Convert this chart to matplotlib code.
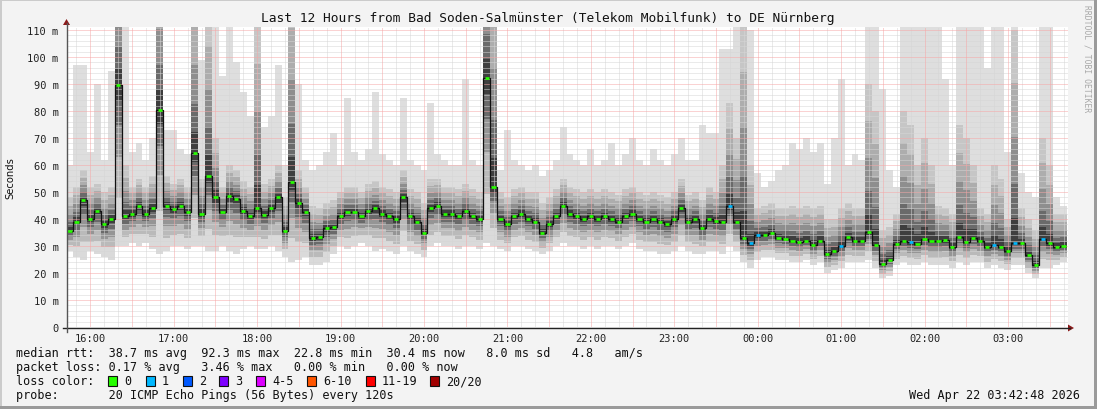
"""SmokePing style latency chart: last 12 hours, Bad Soden-Salmuenster -> DE Nuernberg."""

import numpy as np
import matplotlib
matplotlib.use("Agg")
import matplotlib.pyplot as plt
from matplotlib.patches import Rectangle, Polygon
from matplotlib.lines import Line2D

W, H = 1097, 410

# --- Data (one sample every 5 minutes from 15:45) ---
start_hour = 15.72          # left edge of the plot (15:43)
step_min = 5

median = [
    35.5, 39, 47, 40, 43, 38, 40, 89.6, 41, 42,
    45, 42, 44, 80.5, 45, 43.7, 45, 42.6, 64.4, 42,
    56, 48, 42.6, 48.5, 47.5, 43, 41, 44, 41.5, 44,
    48, 35.6, 53.7, 46, 42.6, 33, 33.3, 36.5, 37, 41,
    42.6, 42.6, 41, 43, 44, 42, 41, 40, 48, 41,
    39, 35, 44, 45, 42, 42, 41, 43, 41, 40,
    92.3, 52, 40, 38, 41, 42, 40, 39, 35, 38,
    41, 45, 42, 41, 40, 41, 40, 41, 40, 39,
    41, 42, 40, 39, 40, 39, 38, 40, 44, 39,
    40, 36.5, 40, 39.3, 39, 44.8, 39, 33, 31, 34,
    34, 34.8, 33, 32.6, 32, 31.5, 32, 30.5, 32, 27,
    28.1, 30, 33.3, 32, 32, 35.2, 30.4, 23.5, 25, 30.7,
    32, 31.3, 30.8, 32.5, 32, 32, 32.2, 29.6, 33.5, 31.5,
    33, 31.8, 29.5, 30.4, 29.6, 28.2, 31, 31, 26.5, 23,
    32.5, 31, 29.6, 30,
]

# lowest ping of each round
ping_min = [
    28, 26, 25, 28, 27, 26, 25, 30, 30, 31,
    30, 31, 29, 27, 28, 30, 30, 29, 30, 30,
    28, 28, 30, 28, 27, 29, 30, 29, 29, 30,
    28, 26, 24, 25, 26, 23, 23, 24, 27, 30,
    29, 30, 31, 30, 28, 29, 28, 27, 30, 28,
    27, 26, 30, 31, 30, 30, 29, 30, 30, 29,
    31, 30, 29, 28, 30, 30, 29, 28, 27, 28,
    30, 31, 30, 30, 29, 30, 29, 30, 30, 29,
    30, 31, 29, 28, 28, 27, 27, 28, 30, 28,
    27, 27, 28, 28, 27, 30, 28, 24, 22, 25,
    26, 26, 25, 25, 24, 24, 25, 23, 24, 20,
    21, 22, 24, 24, 24, 25, 22, 18, 19, 23,
    24, 23, 23, 24, 23, 23, 23, 22, 24, 23,
    24, 24, 22, 23, 22, 21, 23, 23, 20, 18,
    22, 22, 23, 24,
]

# upper edge of the dense smoke (about the 18th of 20 pings)
ping_high = [
    48, 52, 58, 52, 53, 50, 52, 140, 60, 52,
    55, 52, 56, 140, 56, 53, 55, 52, 130, 55,
    120, 70, 52, 60, 58, 54, 52, 115, 53, 55,
    60, 48, 130, 58, 52, 45, 44, 46, 47, 50,
    52, 52, 50, 53, 54, 52, 51, 50, 58, 51,
    50, 46, 55, 55, 52, 52, 51, 53, 51, 50,
    150, 140, 50, 48, 51, 52, 50, 50, 46, 48,
    51, 55, 52, 51, 50, 51, 50, 51, 50, 49,
    51, 52, 50, 49, 50, 49, 48, 50, 55, 49,
    50, 47, 52, 50, 60, 83, 70, 115, 60, 44,
    45, 46, 44, 44, 45, 44, 45, 44, 45, 40,
    40, 44, 46, 44, 44, 90, 80, 36, 37, 42,
    80, 75, 60, 70, 60, 45, 44, 42, 75, 70,
    60, 44, 42, 60, 55, 40, 110, 44, 40, 36,
    70, 60, 42, 42,
]

# highest ping of each round
ping_max = [
    60, 97, 97, 65, 90, 62, 95, 150, 115, 65,
    68, 62, 70, 150, 73, 73, 66, 64, 150, 99,
    150, 120, 93, 112, 98, 87, 78, 150, 74, 78,
    97, 60, 150, 90, 62, 58, 60, 65, 72, 60,
    85, 65, 62, 66, 87, 64, 62, 60, 85, 62,
    60, 58, 83, 64, 62, 60, 60, 92, 62, 60,
    150, 150, 58, 73, 62, 60, 58, 60, 56, 58,
    62, 74, 64, 62, 60, 66, 60, 62, 68, 60,
    64, 70, 62, 60, 66, 62, 60, 64, 70, 62,
    62, 75, 72, 72, 103, 103, 125, 125, 110, 57,
    52, 54, 58, 60, 68, 66, 70, 65, 68, 53,
    70, 92, 60, 64, 62, 120, 120, 88, 58, 52,
    120, 120, 120, 115, 115, 115, 92, 60, 120, 120,
    120, 115, 96, 115, 115, 65, 120, 57, 50, 48,
    120, 120, 48, 45,
]

# rounds with one lost ping (of 20)
loss_idx = [95, 98, 99, 111, 121, 133, 136, 140]

loss_labels = ["0", "1", "2", "3", "4-5", "6-10", "11-19", "20/20"]
loss_colors = ["#26ff00", "#00b8ff", "#0059ff", "#7e00ff",
               "#dd00ff", "#ff5500", "#ff0000", "#a10000"]

title = "Last 12 Hours from Bad Soden-Salmünster (Telekom Mobilfunk) to DE Nürnberg"
stats_rtt = "median rtt:  38.7 ms avg  92.3 ms max  22.8 ms min  30.4 ms now   8.0 ms sd   4.8   am/s"
stats_loss = "packet loss: 0.17 % avg   3.46 % max   0.00 % min   0.00 % now"
probe_line = "probe:       20 ICMP Echo Pings (56 Bytes) every 120s"
stamp = "Wed Apr 22 03:42:48 2026"

MONO = "DejaVu Sans Mono"


def fx(x):
    return x / W


def fy(y):
    return 1 - y / H


med = np.array(median, dtype=float)
mn = np.array(ping_min, dtype=float)
hi = np.array(ping_high, dtype=float)
mx = np.array(ping_max, dtype=float)
n = len(med)
t = (1.8 + step_min * np.arange(n)) / 60.0
bw = step_min / 60.0

fig = plt.figure(figsize=(W / 100, H / 100), dpi=100, facecolor="#f3f3f3")

# frame shading like rrdtool
fig.add_artist(Rectangle((0, fy(2)), 1, 2 / H, transform=fig.transFigure, color="#cbcbcb", lw=0, zorder=-5))
fig.add_artist(Rectangle((0, 0), 2 / W, 1, transform=fig.transFigure, color="#cbcbcb", lw=0, zorder=-5))
fig.add_artist(Rectangle((0, 0), 1, 3 / H, transform=fig.transFigure, color="#9a9a9a", lw=0, zorder=-5))
fig.add_artist(Rectangle((fx(1094), 0), 3 / W, 1, transform=fig.transFigure, color="#9a9a9a", lw=0, zorder=-5))

ax_l, ax_r, ax_t, ax_b = 67, 1068, 28, 328
ax = fig.add_axes([fx(ax_l), fy(ax_b), fx(ax_r) - fx(ax_l), fy(ax_t) - fy(ax_b)])
ax.set_facecolor("white")
ymax = (ax_b - ax_t) / 2.7
ax.set_xlim(0, 12)
ax.set_ylim(0, ymax)
for s in ax.spines.values():
    s.set_visible(False)

# smoke shading: lightest at the outer pings, darkest at the median
d = med - mn
lo_frac = [1.0, 0.7, 0.45, 0.25, 0.1, 0.0]
lo_cols = ["#dadada", "#bababa", "#959595", "#6a6a6a", "#3e3e3e"]
for k, c in enumerate(lo_cols):
    b0 = med - lo_frac[k] * d
    b1 = med - lo_frac[k + 1] * d
    ax.bar(t, b1 - b0, bottom=b0, width=bw, color=c, linewidth=0,
           antialiased=False, zorder=1)

u = hi - med
up_frac = [0.0, 0.12, 0.28, 0.5, 0.75, 1.0]
up_cols = ["#3e3e3e", "#6a6a6a", "#8e8e8e", "#adadad", "#c6c6c6"]
for k, c in enumerate(up_cols):
    b0 = med + up_frac[k] * u
    b1 = med + up_frac[k + 1] * u
    ax.bar(t, b1 - b0, bottom=b0, width=bw, color=c, linewidth=0,
           antialiased=False, zorder=1)
top = np.maximum(mx, hi)
ax.bar(t, top - hi, bottom=hi, width=bw, color="#dedede", linewidth=0,
       antialiased=False, zorder=1)

# grid on top of the smoke
dot = (0, (1, 1))
gcol, rcol = "#d6d6d6", "#f7a6a6"
minor_x = [(15 + 50 / 60 + k / 6) - start_hour for k in range(72)]
for v in minor_x:
    if 0 < v < 12 and abs((v + start_hour) * 2 - round((v + start_hour) * 2)) > 0.01:
        ax.axvline(v, color=gcol, lw=0.72, ls=dot, zorder=2)
for k in range(0, 56):
    v = k * 2
    if v % 10 and v < ymax:
        ax.axhline(v, color=gcol, lw=0.72, ls=dot, zorder=2)
for k in range(24):
    v = 16 + k * 0.5 - start_hour
    if 0 < v < 12:
        ax.axvline(v, color=rcol, lw=0.72, ls=dot, zorder=2)
for v in range(10, 111, 10):
    ax.axhline(v, color=rcol, lw=0.72, ls=dot, zorder=2)

# median line with loss coloured marks
ax.step(t, med, where="mid", color="#111111", lw=0.9, zorder=3)
mark_cols = [loss_colors[1] if i in loss_idx else loss_colors[0] for i in range(n)]
ax.hlines(med, t - bw * 0.3, t + bw * 0.3, colors=mark_cols, lw=1.9, zorder=4)

# ticks
hours = list(range(16, 28))
ax.set_xticks([h - start_hour for h in hours])
ax.set_xticklabels([f"{h % 24:02d}:00" for h in hours], family=MONO, fontsize=7.5)
yt = list(range(0, 111, 10))
ax.set_yticks(yt)
ax.set_yticklabels(["0" if v == 0 else f"{v} m" for v in yt], family=MONO, fontsize=7.5)
ax.tick_params(axis="both", length=0, colors="#222222")
ax.tick_params(axis="x", pad=4)
ax.tick_params(axis="y", pad=6)

# axes lines with arrows
fig.add_artist(Line2D([fx(63), fx(1070)], [fy(329), fy(329)], color="#222222", lw=1, transform=fig.transFigure))
fig.add_artist(Line2D([fx(66.5), fx(66.5)], [fy(333), fy(24)], color="#555555", lw=1, transform=fig.transFigure))
fig.add_artist(Polygon([(fx(1068), fy(325.5)), (fx(1068), fy(332.5)), (fx(1074), fy(329))],
                       closed=True, transform=fig.transFigure, color="#8b1a1a", lw=0))
fig.add_artist(Polygon([(fx(63), fy(26)), (fx(70), fy(26)), (fx(66.5), fy(20))],
                       closed=True, transform=fig.transFigure, color="#8b1a1a", lw=0))

# texts
fig.text(fx(548), fy(18.5), title, ha="center", va="center", family=MONO, fontsize=9.3, color="#111111")
fig.text(fx(10), fy(178), "Seconds", rotation=90, ha="center", va="center", family="DejaVu Sans",
         fontsize=7.2, color="#111111")
fig.text(fx(1087), fy(5), "RRDTOOL / TOBI OETIKER", rotation=270, ha="center", va="top", family=MONO,
         fontsize=5.8, color="#a8a8a8")

fig.text(fx(16), fy(354), stats_rtt, ha="left", va="center", family=MONO, fontsize=8.5, color="#111111")
fig.text(fx(16), fy(368), stats_loss, ha="left", va="center", family=MONO, fontsize=8.5, color="#111111")
fig.text(fx(16), fy(382), "loss color:", ha="left", va="center", family=MONO, fontsize=8.5, color="#111111")
fig.text(fx(16), fy(396), probe_line, ha="left", va="center", family=MONO, fontsize=8.5, color="#111111")
fig.text(fx(1080), fy(396), stamp, ha="right", va="center", family=MONO, fontsize=8.5, color="#111111")

box_x = [108, 146, 183, 219, 256, 307, 366, 430]
for bx, lab, col in zip(box_x, loss_labels, loss_colors):
    fig.add_artist(Rectangle((fx(bx), fy(386.5)), fx(8.5), fy(377) - fy(386.5), transform=fig.transFigure,
                             facecolor=col, edgecolor="#111111", lw=0.8))
    fig.text(fx(bx + 16), fy(382), lab, ha="left", va="center", family=MONO, fontsize=8.5, color="#111111")

fig.savefig("out.png", dpi=100, facecolor=fig.get_facecolor())
